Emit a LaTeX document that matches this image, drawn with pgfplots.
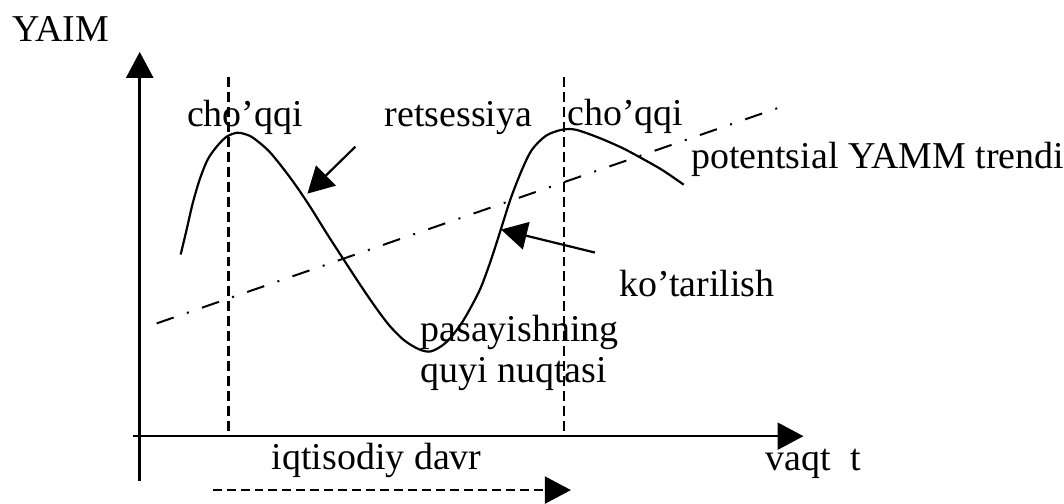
\documentclass[border=0pt]{standalone}
\usepackage{fontspec}
\setmainfont{Liberation Serif}
\usepackage{pgfplots}
\pgfplotsset{compat=1.18}
\usetikzlibrary{arrows.meta}
\begin{document}
\begin{tikzpicture}
\begin{axis}[
  scale only axis, width=532pt, height=250.5pt,
  xmin=0, xmax=1064, ymin=0, ymax=501, y dir=reverse,
  hide axis, clip=false,
]
\path (axis cs:0,0) rectangle (axis cs:1064,501);
\tikzset{tip/.style={-{Triangle[length=13pt,width=13.5pt]}}}
% axes
\addplot[line width=1.3pt, tip] coordinates {(140,482) (140,52)};
\addplot[line width=1.3pt, tip] coordinates {(133,437) (805,437)};
% vertical dashed lines
\addplot[line width=1.1pt, dash pattern=on 5pt off 2.5pt] coordinates {(229,77) (229,433)};
\addplot[line width=1.1pt, dash pattern=on 5pt off 2.5pt] coordinates {(565,77) (565,433)};
% cycle arrow
\addplot[line width=1.1pt, dash pattern=on 4.5pt off 2.5pt, tip] coordinates {(213,491) (572,491)};
% trend
\addplot[line width=1pt, dash pattern=on 9pt off 7pt on 1pt off 7pt] coordinates {(157,324) (780,108)};
% business cycle curve
\addplot[line width=1.1pt, smooth, tension=0.5] coordinates {
 (181,255) (187,230) (193,204) (200,180) (208,160) (217,147) (227,137)
 (238,133) (250,136) (260,143) (270,152) (280,164) (290,177) (300,191)
 (310,206) (320,222) (330,238) (343,258) (360,284) (375,306) (390,326)
 (405,341) (420,350) (432,352) (447,343) (463,323) (480,292) (490,266)
 (497,245) (503,226) (512,198) (523,170) (533,150) (547,136) (563,130)
 (577,130) (600,138) (623,148) (640,157) (663,170) (685,185)};
% pointer arrows
\addplot[line width=1.1pt, -{Triangle[length=13pt,width=14pt]}] coordinates {(356,147) (308,194)};
\addplot[line width=1.1pt, -{Triangle[length=13pt,width=14pt]}] coordinates {(596,253) (502,230)};
% labels
\tikzset{lab/.style={anchor=base west, inner sep=0pt, font=\fontsize{19}{21}\selectfont}}
\node[lab] at (axis cs:12,42) {YAIM};
\node[lab] at (axis cs:187,127) {cho’qqi};
\node[lab] at (axis cs:385,127) {retsessiya};
\node[lab] at (axis cs:568,126) {cho’qqi};
\node[lab] at (axis cs:692,169) {potentsial YAMM trendi};
\node[lab] at (axis cs:620,297) {ko’tarilish};
\node[lab] at (axis cs:421,342) {pasayishning};
\node[lab] at (axis cs:421,383) {quyi nuqtasi};
\node[lab] at (axis cs:272,470) {iqtisodiy davr};
\node[lab] at (axis cs:767,471) {vaqt\ \ t};
\end{axis}
\end{tikzpicture}
\end{document}
